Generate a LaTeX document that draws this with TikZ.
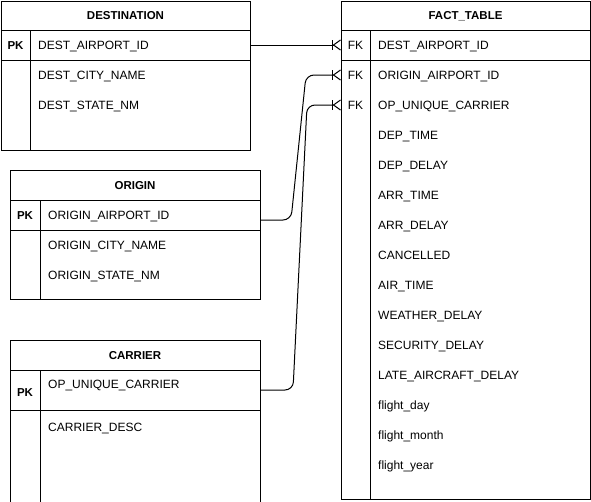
\documentclass[tikz,border=0pt]{standalone}
\usepackage{fontspec}
\setmainfont{Liberation Sans}
\usetikzlibrary{arrows.meta,calc}
\tikzset{
  tablebox/.style={draw, line width=1pt, inner sep=0pt, anchor=north west},
  rowline/.style={line width=1pt},
  tabletitle/.style={font=\fontsize{11.5}{13}\selectfont\bfseries,
    inner sep=0pt, text height=8.3pt, text depth=0pt},
  keytext/.style={font=\fontsize{11.5}{13}\selectfont\bfseries,
    inner sep=0pt, text height=8.3pt, text depth=0pt},
  fktext/.style={font=\fontsize{12}{14}\selectfont,
    inner sep=0pt, text height=8.6pt, text depth=0pt},
  fieldtext/.style={font=\fontsize{12}{14}\selectfont, anchor=west,
    inner sep=0pt, text height=8.6pt, text depth=0pt},
  relation/.style={line width=1pt, rounded corners=8pt,
    -{Bar[width=10pt]Straight Barb[reversed,length=7pt,width=10pt]}}
}

\begin{document}
\begin{tikzpicture}[x=1pt,y=-1pt]
  \useasboundingbox (0,0) rectangle (591,501);
  \clip (0,0) rectangle (591,501);

  % DESTINATION
  \node[tablebox, minimum width=249pt, minimum height=149pt] (dest) at (1,1) {};
  \draw[rowline] (1,30) -- (250,30);
  \draw[rowline] (1,60) -- (250,60);
  \draw[rowline] (30,30) -- (30,150);
  \node[tabletitle] (desttitle) at (125.5,15) {DESTINATION};
  \node[keytext] (destkey) at (15.5,45) {PK};
  \node[fieldtext] (destpk) at (38,45) {DEST\_AIRPORT\_ID};
  \node[fieldtext] (destcity) at (38,75) {DEST\_CITY\_NAME};
  \node[fieldtext] (deststate) at (38,105) {DEST\_STATE\_NM};

  % ORIGIN
  \node[tablebox, minimum width=250pt, minimum height=129pt] (origin) at (10,170) {};
  \draw[rowline] (10,200) -- (260,200);
  \draw[rowline] (10,230) -- (260,230);
  \draw[rowline] (40,200) -- (40,299);
  \node[tabletitle] (origintitle) at (135,185) {ORIGIN};
  \node[keytext] (originkey) at (25,215) {PK};
  \node[fieldtext] (originpk) at (48,215) {ORIGIN\_AIRPORT\_ID};
  \node[fieldtext] (origincity) at (48,245) {ORIGIN\_CITY\_NAME};
  \node[fieldtext] (originstate) at (48,275) {ORIGIN\_STATE\_NM};

  % CARRIER
  \node[tablebox, minimum width=250pt, minimum height=170pt] (carrier) at (10,340) {};
  \draw[rowline] (10,370) -- (260,370);
  \draw[rowline] (10,410) -- (260,410);
  \draw[rowline] (40,370) -- (40,510);
  \node[tabletitle] (carriertitle) at (135,355) {CARRIER};
  \node[keytext] (carrierkey) at (25,392) {PK};
  \node[fieldtext] (carrierpk) at (48,384) {OP\_UNIQUE\_CARRIER};
  \node[fieldtext] (carrierdesc) at (48,427) {CARRIER\_DESC};

  % FACT_TABLE
  \node[tablebox, minimum width=249pt, minimum height=498pt] (fact) at (341,1) {};
  \draw[rowline] (341,30) -- (590,30);
  \draw[rowline] (341,60) -- (590,60);
  \draw[rowline] (370,30) -- (370,499);
  \node[tabletitle] (facttitle) at (465.5,15) {FACT\_TABLE};
  \foreach \k in {0,1,2}
    \node[fktext] (factkey\k) at (355.5,45+30*\k) {FK};
  \foreach \f [count=\i from 0] in {DEST\_AIRPORT\_ID, ORIGIN\_AIRPORT\_ID,
      OP\_UNIQUE\_CARRIER, DEP\_TIME, DEP\_DELAY, ARR\_TIME, ARR\_DELAY,
      CANCELLED, AIR\_TIME, WEATHER\_DELAY, SECURITY\_DELAY,
      LATE\_AIRCRAFT\_DELAY, flight\_day, flight\_month, flight\_year}
    \node[fieldtext] (fld\i) at (378,45+30*\i) {\f};

  % relations
  \draw[relation] (dest.east |- destpk) -- (fact.west |- fld0);
  \draw[relation] ([yshift=-5pt]origin.east |- originpk) -- ++(30,0)
    -- ([xshift=-35pt]fact.west |- fld1) -- (fact.west |- fld1);
  \draw[relation] (carrier.east |- 0,390) -- ++(32,0)
    -- ([xshift=-34pt]fact.west |- fld2) -- (fact.west |- fld2);
\end{tikzpicture}
\end{document}
